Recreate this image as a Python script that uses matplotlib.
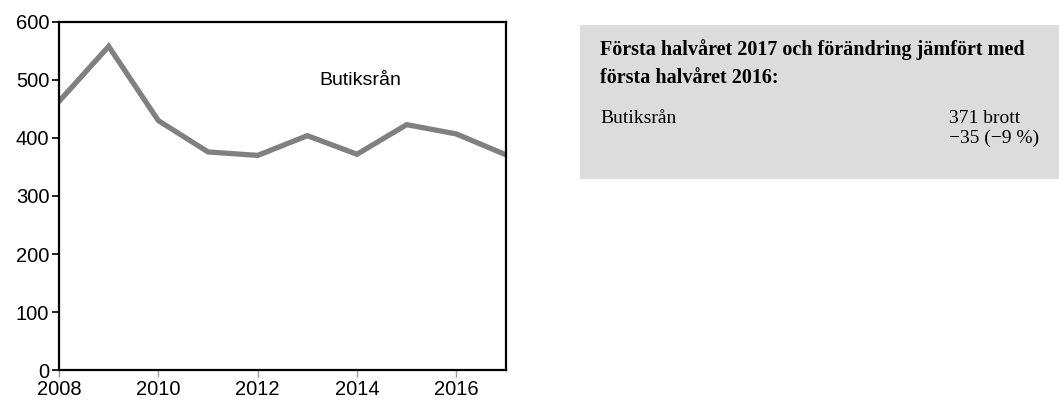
import matplotlib
matplotlib.use("Agg")
import matplotlib.pyplot as plt
from matplotlib.patches import Rectangle

years = [2008, 2009, 2010, 2011, 2012, 2013, 2014, 2015, 2016, 2017]
butiksran = [463, 558, 430, 376, 370, 404, 372, 423, 407, 371]

xticks = [2008, 2010, 2012, 2014, 2016]
yticks = [0, 100, 200, 300, 400, 500, 600]

series_label = "Butiksrån"
box_title1 = "Första halvåret 2017 och förändring jämfört med"
box_title2 = "första halvåret 2016:"
box_value1 = "371 brott"
box_value2 = "\u221235 (\u22129 %)"

W, H = 1059, 405
fig = plt.figure(figsize=(W / 100, H / 100), dpi=100)
ax = fig.add_axes([59 / W, 1 - 370 / H, (506 - 59) / W, (370 - 22) / H])

ax.plot(years, butiksran, color="#808080", linewidth=3.8, solid_joinstyle="miter")
ax.set_xlim(2008, 2017)
ax.set_ylim(0, 600)
ax.set_xticks(xticks)
ax.set_yticks(yticks)
ax.tick_params(axis="both", labelsize=14.5, direction="out", length=5, pad=2)
ax.tick_params(axis="x", color="#999999", width=1)
ax.tick_params(axis="y", color="black", width=1.2)
for lab in ax.get_xticklabels() + ax.get_yticklabels():
    lab.set_family("Liberation Sans")
for s in ax.spines.values():
    s.set_linewidth(1.6)
ax.text(2014.06, 499, series_label, fontsize=14, family="Liberation Sans",
        ha="center", va="center")

# grey info box on the right
fig.patches.append(Rectangle((580 / W, 1 - 179 / H), (W - 580) / W, (179 - 25) / H,
                             transform=fig.transFigure, facecolor="#dcdcdc",
                             edgecolor="none", zorder=0))
serif = "Liberation Serif"
fig.text(600 / W, 1 - 55 / H, box_title1, fontsize=14.5, fontweight="bold",
         family=serif, va="baseline", ha="left")
fig.text(600 / W, 1 - 83 / H, box_title2, fontsize=14.5, fontweight="bold",
         family=serif, va="baseline", ha="left")
fig.text(600 / W, 1 - 123 / H, series_label, fontsize=14,
         family=serif, va="baseline", ha="left")
fig.text(949 / W, 1 - 123 / H, box_value1, fontsize=14,
         family=serif, va="baseline", ha="left")
fig.text(949 / W, 1 - 143 / H, box_value2, fontsize=14,
         family=serif, va="baseline", ha="left")

fig.savefig("out.png", dpi=100)
